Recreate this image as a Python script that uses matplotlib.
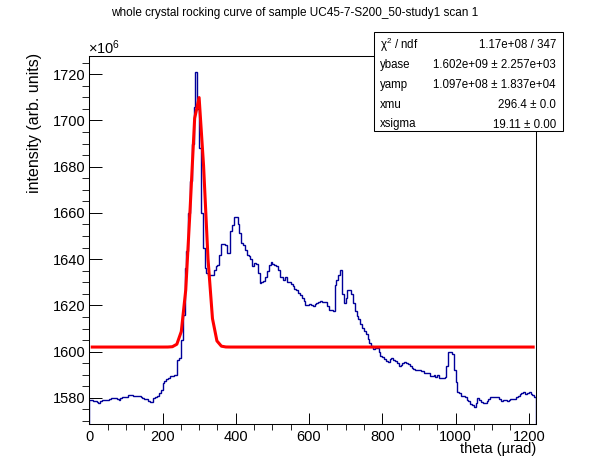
import numpy as np
import matplotlib
matplotlib.use('Agg')
import matplotlib.pyplot as plt
from matplotlib.ticker import MultipleLocator
from matplotlib.patches import Rectangle

plt.rcParams['font.family'] = ['Liberation Sans', 'DejaVu Sans']
plt.rcParams['mathtext.fontset'] = 'custom'
plt.rcParams['mathtext.rm'] = 'Liberation Sans'
plt.rcParams['mathtext.it'] = 'Liberation Sans:italic'

# histogram: bin width in urad, contents in units of 1e6
bin_width = 5
counts = [
    1579.3, 1579.0, 1578.6, 1578.6, 1578.2, 1577.9, 1578.6, 1579.0, 1579.0, 1579.3,
    1579.3, 1579.6, 1580.0, 1580.0, 1580.0, 1579.6, 1579.3, 1580.0, 1580.3, 1580.3,
    1580.6, 1581.2, 1581.2, 1581.2, 1581.0, 1580.8, 1580.8, 1580.8, 1580.6, 1579.8,
    1579.6, 1579.4, 1578.6, 1578.4, 1578.2, 1580.0, 1580.5, 1581.0, 1582.0, 1583.6,
    1586.5, 1587.5, 1588.0, 1588.7, 1589.4, 1589.4, 1590.0, 1590.1, 1596.6, 1597.3,
    1605.2, 1616.0, 1636.2, 1643.4, 1660.0, 1674.0, 1690.0, 1706.0, 1720.8, 1705.0,
    1688.0, 1660.0, 1645.0, 1636.0, 1634.0, 1633.3, 1633.3, 1633.3, 1635.5, 1637.2,
    1637.6, 1642.0, 1646.4, 1646.4, 1646.0, 1642.8, 1642.5, 1652.0, 1654.9, 1658.2,
    1658.2, 1655.0, 1651.3, 1647.0, 1646.0, 1644.0, 1642.0, 1641.3, 1640.0, 1637.0,
    1638.4, 1638.0, 1634.0, 1629.6, 1630.0, 1630.5, 1632.4, 1635.0, 1637.3, 1638.7,
    1638.0, 1637.5, 1636.9, 1635.5, 1632.4, 1632.4, 1631.0, 1632.2, 1630.2, 1630.2,
    1629.2, 1628.5, 1627.3, 1626.6, 1625.5, 1624.5, 1623.0, 1622.0, 1620.1, 1620.1,
    1620.5, 1620.0, 1619.7, 1620.5, 1621.0, 1621.5, 1621.8, 1621.4, 1621.4, 1621.4,
    1619.9, 1618.2, 1618.0, 1617.8, 1629.0, 1631.0, 1633.3, 1635.5, 1625.0, 1621.1,
    1623.2, 1626.5, 1626.5, 1625.0, 1621.0, 1617.5, 1615.5, 1614.0, 1612.0, 1610.3,
    1609.0, 1607.5, 1605.5, 1603.8, 1602.3, 1601.0, 1601.6, 1601.6, 1599.9, 1598.3,
    1597.5, 1596.9, 1596.0, 1595.5, 1596.8, 1597.3, 1596.5, 1596.0, 1595.0, 1593.7,
    1594.4, 1595.2, 1595.4, 1595.2, 1594.6, 1593.7, 1593.0, 1592.6, 1592.2, 1592.1,
    1592.0, 1591.5, 1591.5, 1590.8, 1590.8, 1590.8, 1589.6, 1589.4, 1589.7, 1589.1,
    1590.1, 1588.6, 1588.4, 1588.4, 1589.0, 1594.0, 1600.0, 1600.0, 1599.2, 1592.0,
    1586.8, 1582.5, 1582.0, 1581.0, 1580.8, 1580.3, 1579.3, 1578.5, 1577.5, 1576.8,
    1576.1, 1577.6, 1579.9, 1579.0, 1578.2, 1577.6, 1577.6, 1578.6, 1579.6, 1580.2,
    1580.6, 1580.6, 1580.6, 1580.3, 1579.6, 1578.6, 1579.3, 1578.9, 1578.7, 1579.2,
    1579.7, 1579.7, 1579.7, 1580.5, 1581.0, 1581.8, 1582.2, 1582.5, 1581.5, 1582.2,
    1582.6, 1581.8, 1581.3, 1580.5,
]

# fit parameters (gaussian on flat base), y in units of 1e6
ybase = 1602.0
yamp = 109.7
xmu = 296.4
xsigma = 19.11
fit_range = (8, 1212)

stat_labels = ['\u03c7$^{2}$ / ndf', 'ybase', 'yamp', 'xmu', 'xsigma']
stat_values = ['1.17e+08 / 347', '1.602e+09 \u00b1 2.257e+03',
               '1.097e+08 \u00b1 1.837e+04', '296.4 \u00b1 0.0', '19.11 \u00b1 0.00']

edges = np.arange(len(counts) + 1) * bin_width
xf = np.linspace(fit_range[0], fit_range[1], 100)
yf = ybase + yamp * np.exp(-0.5 * ((xf - xmu) / xsigma) ** 2)

fig = plt.figure(figsize=(5.96, 4.72), dpi=100)
ax = fig.add_axes([0.1498, 0.1011, 0.7503, 0.7809])

ax.stairs(counts, edges, color='#000099', linewidth=1.0)
ax.plot(xf, yf, color='red', linewidth=2.2)

ax.set_xlim(0, 1221)
ax.set_ylim(1568.6, 1728.0)
ax.xaxis.set_major_locator(MultipleLocator(200))
ax.xaxis.set_minor_locator(MultipleLocator(50))
ax.yaxis.set_major_locator(MultipleLocator(20))
ax.yaxis.set_minor_locator(MultipleLocator(5))
ax.tick_params(direction='in', top=False, right=False, labelsize=10.5, width=0.7)
ax.tick_params(axis='x', which='major', length=8, pad=4)
ax.tick_params(axis='x', which='minor', length=4)
ax.tick_params(axis='y', which='major', length=9.6, pad=2.5)
ax.tick_params(axis='y', which='minor', length=4.8)
for s in ax.spines.values():
    s.set_linewidth(0.75)

fig.text(294.7 / 596, 1 - 13.3 / 472,
         'whole crystal rocking curve of sample UC45-7-S200_50-study1 scan 1',
         ha='center', va='center', fontsize=8.5)
fig.text(88 / 596, 1 - 54 / 472, r'$\times10^{6}$', ha='left', va='baseline', fontsize=10.5)
fig.text(536 / 596, 1 - 449 / 472, 'theta (\u00b5rad)', ha='right', va='center', fontsize=10.5)
fig.text(35 / 596, 1 - 53 / 472, 'intensity (arb. units)', rotation=90,
         ha='center', va='top', fontsize=11.5)

# stats box
box = Rectangle((374 / 596, 1 - 131 / 472), (563 - 374) / 596, (131 - 32) / 472,
                transform=fig.transFigure, facecolor='white', edgecolor='black',
                linewidth=0.75, zorder=5)
fig.patches.append(box)
row_y = [45, 65, 85, 105, 124.5]
for lab, val, yy in zip(stat_labels, stat_values, row_y):
    fig.text(380 / 596, 1 - yy / 472, lab, ha='left', va='center', fontsize=8.3, zorder=6)
    fig.text(556 / 596, 1 - yy / 472, val, ha='right', va='center', fontsize=8.3, zorder=6)

fig.savefig('out.png', dpi=100)
